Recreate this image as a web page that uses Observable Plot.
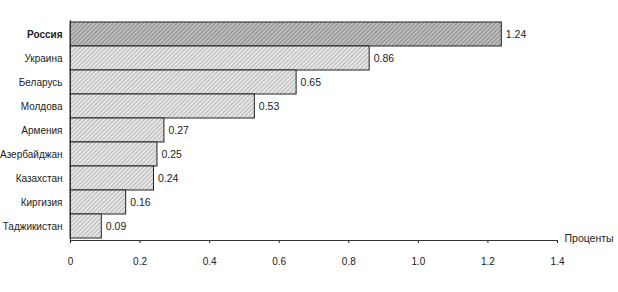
<!DOCTYPE html>
<html><head><meta charset="utf-8">
<script src="https://cdn.jsdelivr.net/npm/d3@7"></script>
<script src="https://cdn.jsdelivr.net/npm/@observablehq/plot@0.6"></script>
<style>
body{margin:0;background:#fff;}
#chart{position:relative;width:618px;height:292px;}
</style>
</head><body><div id="chart"></div>
<script>
const countries = ["Россия","Украина","Беларусь","Молдова","Армения","Азербайджан","Казахстан","Киргизия","Таджикистан"];
const values = [1.24,0.86,0.65,0.53,0.27,0.25,0.24,0.16,0.09];
const xTicks = [0,0.2,0.4,0.6,0.8,1.0,1.2,1.4];
const xTickLabels = ["0","0.2","0.4","0.6","0.8","1.0","1.2","1.4"];
const xLabel = "Проценты";

const data = countries.map((c,i)=>({country:c, value:values[i], first:i===0}));
const font = "'Liberation Sans',Arial,sans-serif";

const plot = Plot.plot({
  width:618, height:292,
  marginLeft:70, marginRight:61, marginTop:20, marginBottom:52,
  style:{fontFamily:font, fontSize:"10px", color:"#222", background:"#fff"},
  x:{domain:[0,1.4], ticks:xTicks, tickFormat:d=>xTickLabels[xTicks.indexOf(d)], tickSize:3, tickPadding:14, label:null},
  y:{domain:countries, padding:0, tickSize:0, tickPadding:8, label:null},
  marks:[
    Plot.barX(data,{y:"country", x:"value", fill:d=>d.first?"url(#hatchDark)":"url(#hatchLight)", stroke:"#222", strokeWidth:1}),
    Plot.text(data,{y:"country", x:"value", text:d=>d.value.toFixed(2), textAnchor:"start", dx:4, fill:"#222", fontSize:10.5}),
    Plot.frame({anchor:"left", stroke:"#333"}),
    Plot.frame({anchor:"bottom", stroke:"#333"}),
    Plot.text([xLabel],{x:1.4, frameAnchor:"bottom", dx:7, dy:1, textAnchor:"start", text:d=>d, fill:"#222", fontSize:10.5})
  ]
});
plot.style.overflow="visible";
const ns="http://www.w3.org/2000/svg";
const defs=document.createElementNS(ns,"defs");
defs.innerHTML=`
<pattern id="hatchLight" patternUnits="userSpaceOnUse" width="3" height="3" patternTransform="rotate(45)">
  <rect width="3" height="3" fill="#e6e6e6"/>
  <line x1="0" y1="0" x2="0" y2="3" stroke="#9a9a9a" stroke-width="1.2"/>
</pattern>
<pattern id="hatchDark" patternUnits="userSpaceOnUse" width="3" height="3" patternTransform="rotate(45)">
  <rect width="3" height="3" fill="#bdbdbd"/>
  <line x1="0" y1="0" x2="0" y2="3" stroke="#6e6e6e" stroke-width="1.2"/>
</pattern>`;
plot.insertBefore(defs, plot.firstChild);
plot.querySelectorAll("[aria-label='y-axis tick label'] text").forEach(t=>{
  if(t.textContent==="Россия") t.setAttribute("font-weight","bold");
});
document.getElementById("chart").appendChild(plot);
</script>
</body></html>
